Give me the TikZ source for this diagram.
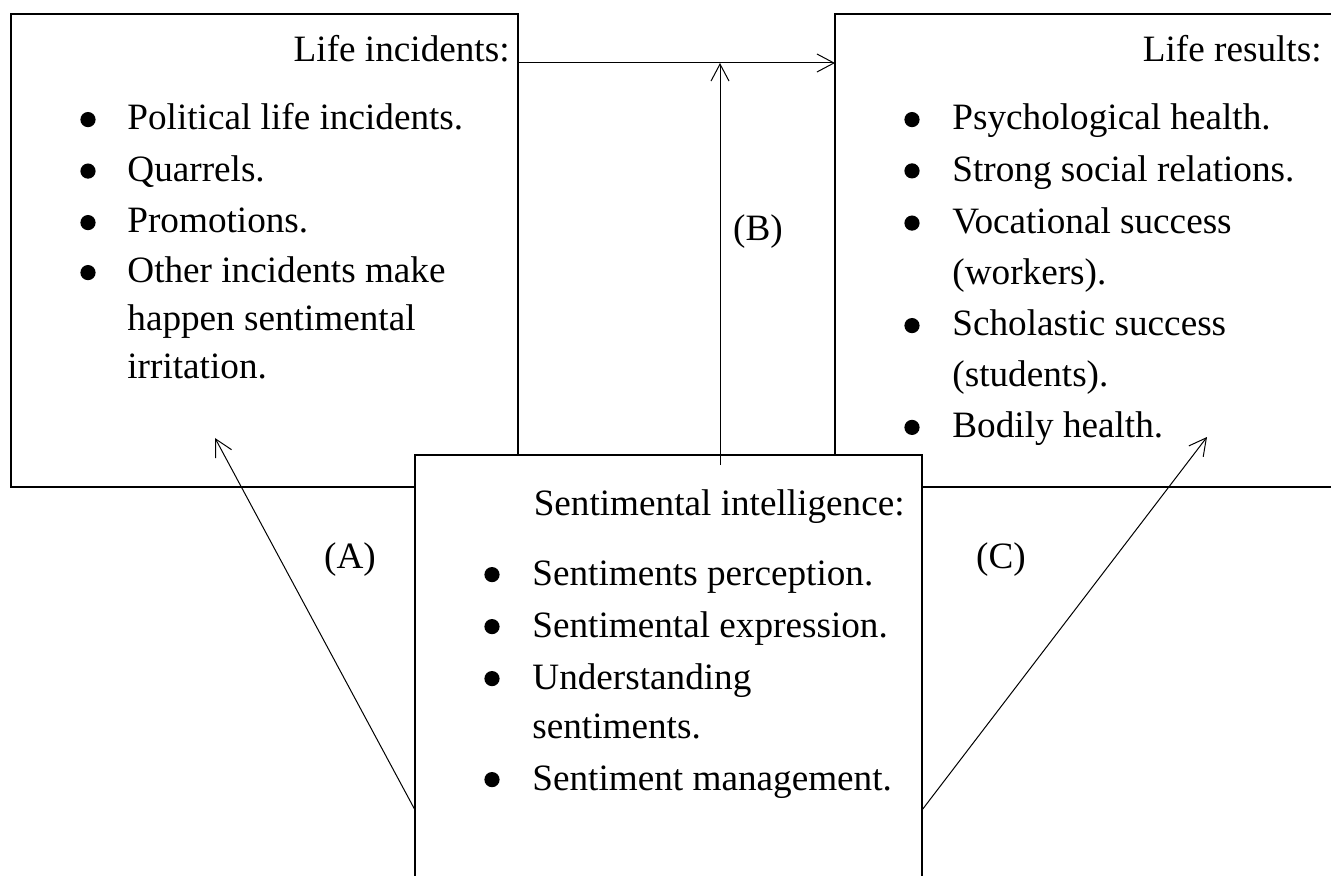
\documentclass[tikz,border=0pt]{standalone}
\usepackage{fontspec}
\setmainfont{Liberation Serif}
\usetikzlibrary{arrows.meta}

\tikzset{
  txtbox/.style = {draw, line width=.7pt, fill=white, anchor=north west,
    minimum width=253.5pt, minimum height=236.5pt, inner sep=0pt, outer sep=0pt},
  arr/.style = {line width=.5pt, -{Straight Barb[length=8.5pt, width=9pt]}},
  txt/.style = {inner sep=0pt, anchor=base west, font=\fontsize{18.6}{22}\selectfont},
  hd/.style = {txt, anchor=base east},
  lab/.style = {txt, anchor=base},
  bul/.style = {circle, fill, inner sep=0pt, minimum size=7.6pt, yshift=5.2pt},
}

\begin{document}
\begin{tikzpicture}[x=.5pt, y=-.5pt]
\clip (0,0) rectangle (1331,876);
\fill[white] (0,0) rectangle (1331,876);

\node[txtbox] (inc) at (11,14) {};
\node[txtbox] (res) at (835,14) {};

\coordinate (topy) at (0,63);
\coordinate (lowy) at (0,810);
\coordinate (aend) at (215,438);
\coordinate (cend) at (1207,437);
\coordinate (bstart) at (720,465);

% life incidents
\node[hd] (inc-h) at (510,62) {Life incidents:};
\node[bul] (inc-b1) at (88,130) {};
\node[txt] (inc-1) at (127,130) {Political life incidents.};
\node[bul] (inc-b2) at (88,181.5) {};
\node[txt] (inc-2) at (127,181.5) {Quarrels.};
\node[bul] (inc-b3) at (88,233) {};
\node[txt] (inc-3) at (127,233) {Promotions.};
\node[bul] (inc-b4) at (88,283) {};
\node[txt] (inc-4) at (127,283) {Other incidents make};
\node[txt] (inc-4b) at (127,331) {happen sentimental};
\node[txt] (inc-4c) at (127,379) {irritation.};

% life results
\node[hd] (res-h) at (1322,62) {Life results:};
\node[bul] (res-b1) at (912,130) {};
\node[txt] (res-1) at (952,130) {Psychological health.};
\node[bul] (res-b2) at (912,181.3) {};
\node[txt] (res-2) at (952,181.3) {Strong social relations.};
\node[bul] (res-b3) at (912,233.5) {};
\node[txt] (res-3) at (952,233.5) {Vocational success};
\node[txt] (res-3b) at (952,284.5) {(workers).};
\node[bul] (res-b4) at (912,336) {};
\node[txt] (res-4) at (952,336) {Scholastic success};
\node[txt] (res-4b) at (952,386.5) {(students).};
\node[bul] (res-b5) at (912,437.8) {};
\node[txt] (res-5) at (952,437.8) {Bodily health.};

\draw[arr] (inc.east |- topy) -- (res.west |- topy);

% sentimental intelligence
\node[txtbox] (sent) at (415,455) {};
\node[hd] (sent-h) at (905,515) {Sentimental intelligence:};
\node[bul] (sent-b1) at (492,585) {};
\node[txt] (sent-1) at (532,585) {Sentiments perception.};
\node[bul] (sent-b2) at (492,637) {};
\node[txt] (sent-2) at (532,637) {Sentimental expression.};
\node[bul] (sent-b3) at (492,689) {};
\node[txt] (sent-3) at (532,689) {Understanding};
\node[txt] (sent-3b) at (532,738) {sentiments.};
\node[bul] (sent-b4) at (492,790) {};
\node[txt] (sent-4) at (532,790) {Sentiment management.};

\draw[arr] (sent.west |- lowy) -- (aend);
\draw[arr] (bstart) -- (bstart |- topy);
\draw[arr] (sent.east |- lowy) -- (cend);

\node[lab] (lab-a) at (350,568) {(A)};
\node[lab] (lab-b) at (758,241) {(B)};
\node[lab] (lab-c) at (1001,568) {(C)};
\end{tikzpicture}
\end{document}
